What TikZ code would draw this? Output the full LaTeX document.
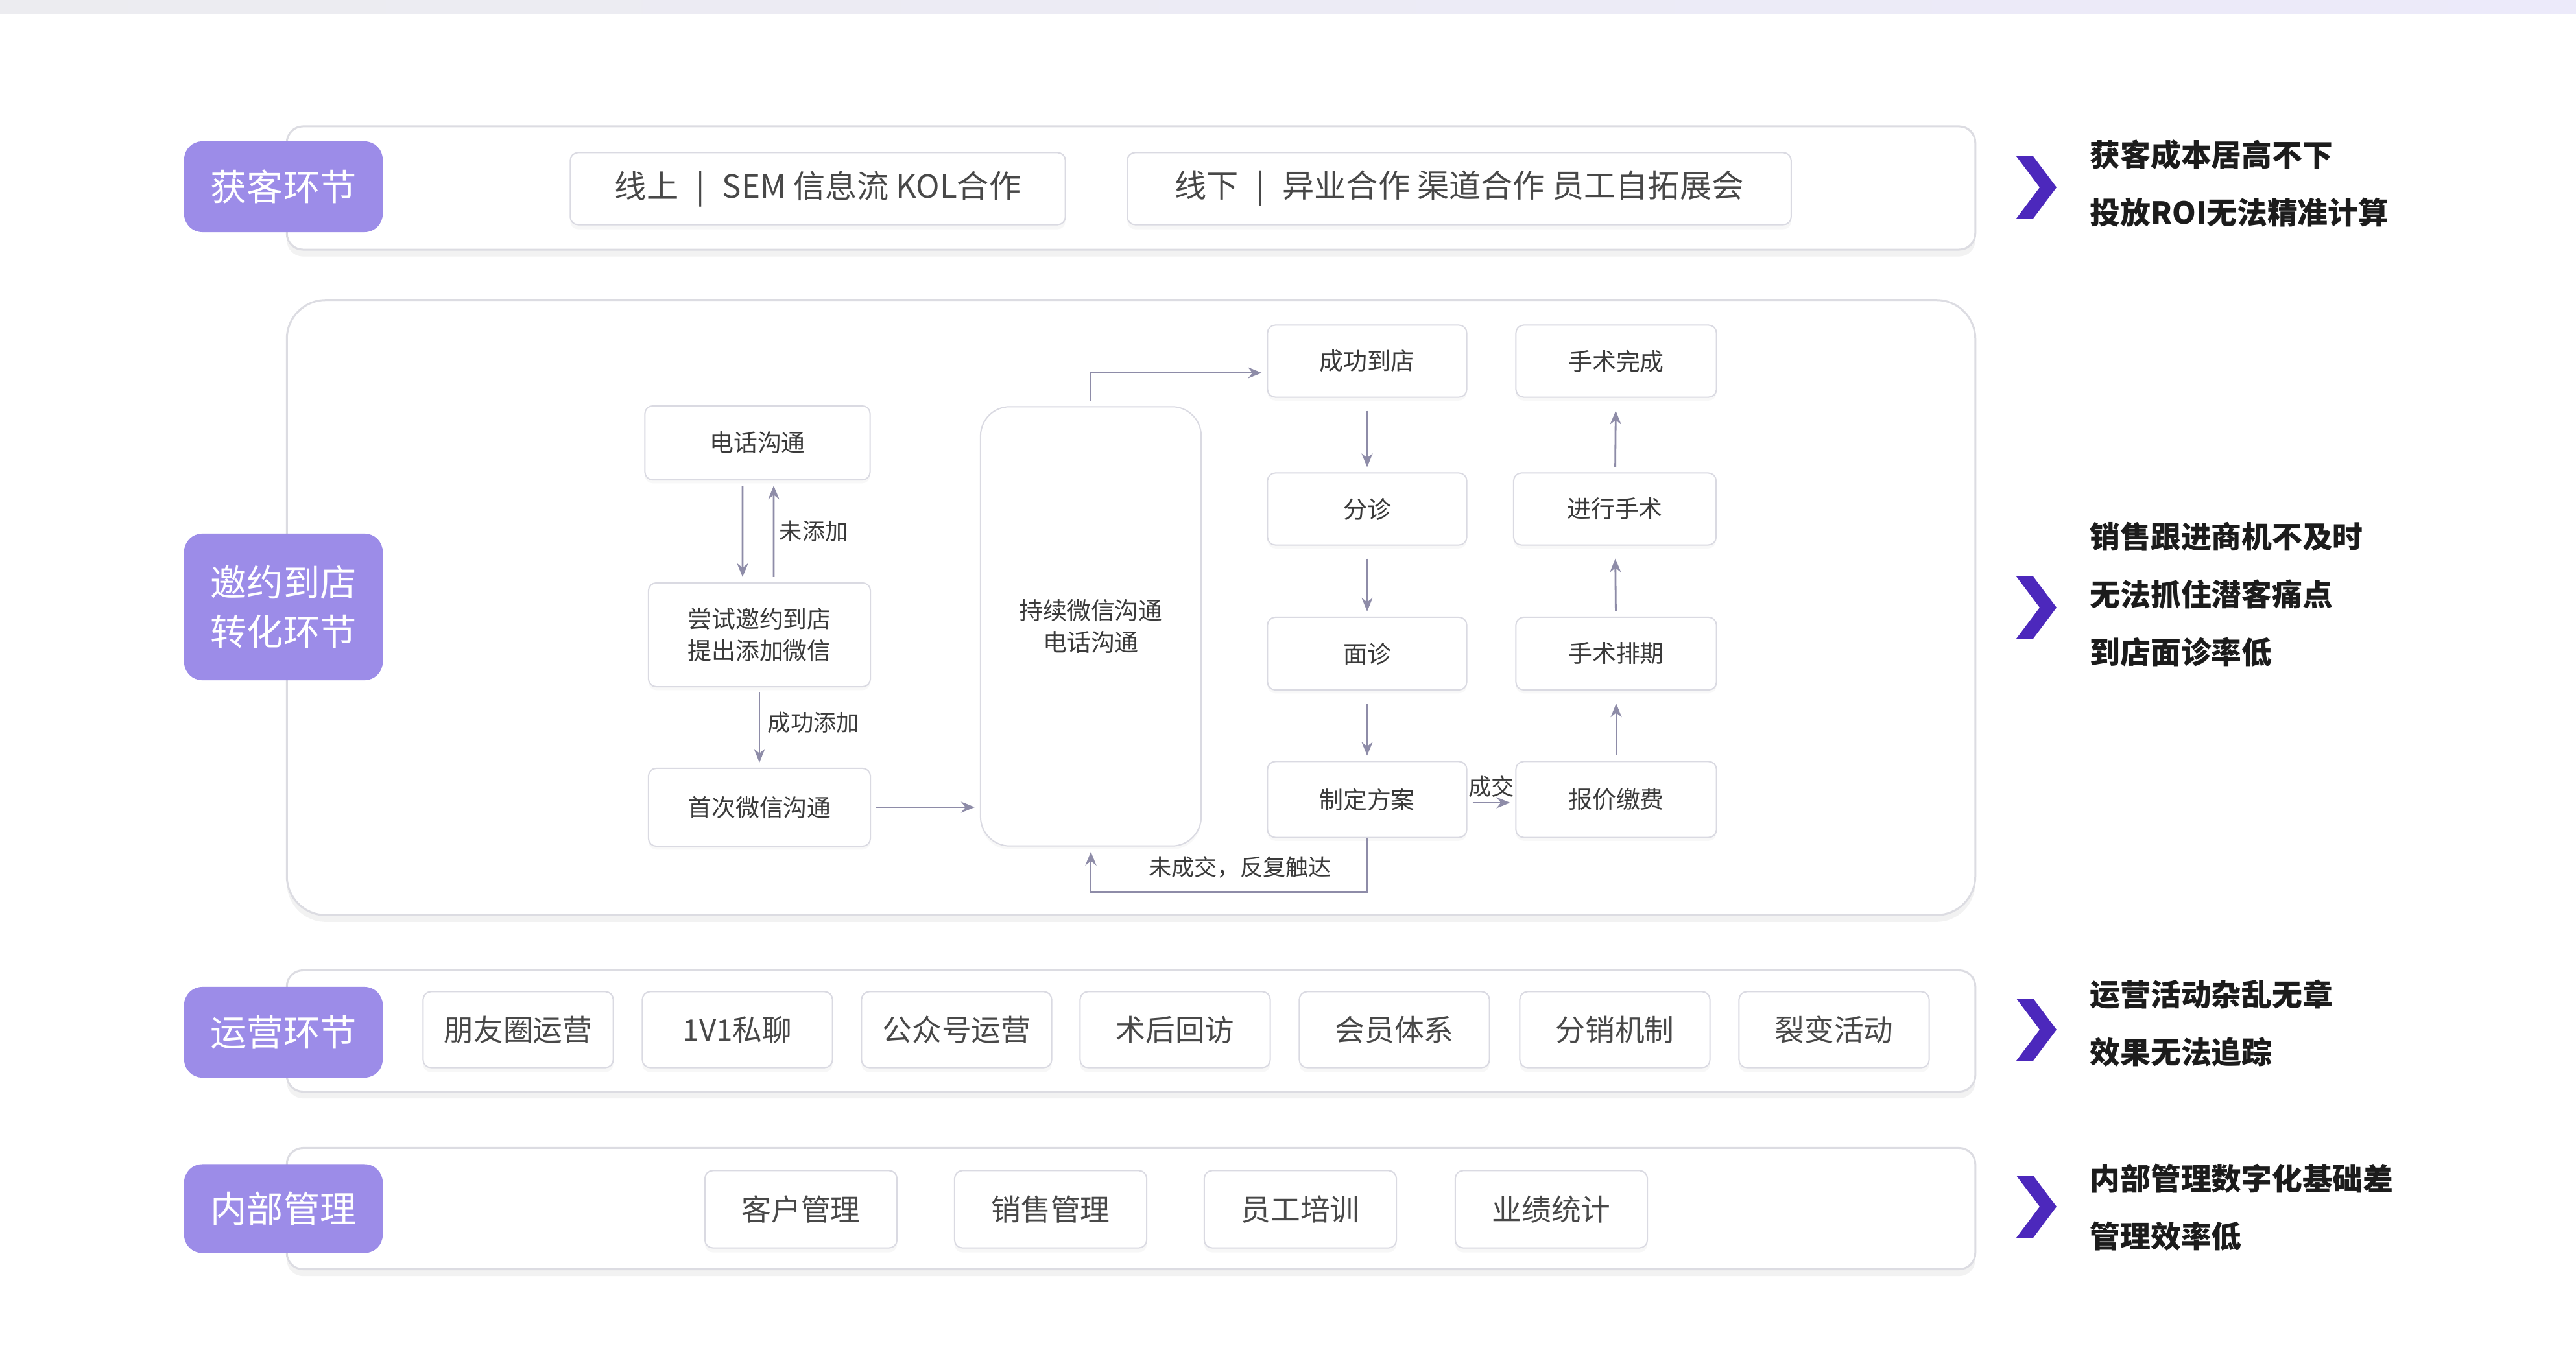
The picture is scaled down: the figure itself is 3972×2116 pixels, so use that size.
\documentclass[tikz,border=0pt]{standalone}
\usepackage{fontspec}
\setmainfont{Noto Sans CJK SC}
\usetikzlibrary{arrows.meta,shadows}
\definecolor{labc}{RGB}{156,140,232}
\definecolor{chevc}{RGB}{76,40,188}
\definecolor{bandc}{RGB}{220,220,226}
\definecolor{boxc}{RGB}{218,218,226}
\definecolor{arrc}{RGB}{142,140,168}
\definecolor{itemtext}{RGB}{72,72,72}
\definecolor{flowtext}{RGB}{58,58,58}
\definecolor{paintext}{RGB}{28,28,28}
\definecolor{stripl}{RGB}{236,236,240}
\definecolor{stripr}{RGB}{236,234,250}
\begin{document}
\begin{tikzpicture}[x=0.01cm,y=-0.01cm,
  bandbox/.style={draw=bandc, line width=0.03cm, rounded corners=0.25cm, fill=white,
    drop shadow={opacity=0.10, shadow xshift=0pt, shadow yshift=-3pt}},
  labbox/.style={fill=labc, rounded corners=0.28cm, text=white,
    font=\fontsize{16}{21.6}\selectfont, align=center, inner sep=0pt},
  itembox/.style={draw=boxc, line width=0.02cm, rounded corners=0.12cm, fill=white,
    text=itemtext, font=\fontsize{13}{16}\selectfont, inner sep=0pt,
    drop shadow={opacity=0.06, shadow xshift=0pt, shadow yshift=-2pt}},
  topitem/.style={itembox, font=\fontsize{14}{17}\selectfont},
  flowbox/.style={draw=boxc, line width=0.02cm, rounded corners=0.12cm, fill=white,
    text=flowtext, font=\fontsize{10.5}{14.2}\selectfont, align=center, inner sep=0pt,
    drop shadow={opacity=0.05, shadow xshift=0pt, shadow yshift=-1.5pt}},
  arr/.style={draw=arrc, line width=0.028cm, -{Stealth[length=0.21cm, width=0.17cm]},
    shorten <=0.08cm, shorten >=0.08cm},
  lbl/.style={text=flowtext, font=\fontsize{10}{12}\selectfont, inner sep=1pt},
  pain/.style={anchor=west, text=paintext, font=\bfseries\fontsize{13.3}{25.3}\selectfont,
    align=left, inner sep=0pt},
  chevron/.pic={\fill[chevc] (-31,-48) -- (-5,-48) -- (31,0) -- (-5,48) -- (-31,48) -- (5,0) -- cycle;}
]
\useasboundingbox (0,0) rectangle (3972,2116);
\fill[white] (0,0) rectangle (3972,2116);
\shade[left color=stripl, right color=stripr] (0,0) rectangle (3972,22);

% ---------- band 1 ----------
\node[bandbox, minimum width=26.02cm, minimum height=1.90cm] (band1) at (1744,290) {};
\node[labbox, minimum width=3.06cm, minimum height=1.40cm] (lab1) at (437,288) {获客环节};
\node[topitem, minimum width=7.63cm, minimum height=1.11cm] (on) at (1261,291) {线上\hspace{0.55em}|\hspace{0.55em}SEM 信息流 KOL合作};
\node[topitem, minimum width=10.23cm, minimum height=1.11cm] (off) at (2250,291) {线下\hspace{0.55em}|\hspace{0.55em}异业合作 渠道合作 员工自拓展会};
\pic at (3140,289) {chevron};
\node[pain] (p1) at (3222,283) {获客成本居高不下\\投放ROI无法精准计算};

% ---------- band 2 ----------
\node[bandbox, rounded corners=0.6cm, minimum width=26.02cm, minimum height=9.48cm] (band2) at (1744,937) {};
\node[labbox, minimum width=3.06cm, minimum height=2.26cm] (lab2) at (437,936) {邀约到店\\转化环节};

\node[flowbox, minimum width=3.47cm, minimum height=1.14cm] (phone) at (1168,683) {电话沟通};
\node[flowbox, minimum width=3.42cm, minimum height=1.60cm] (try) at (1171,979) {尝试邀约到店\\提出添加微信};
\node[flowbox, minimum width=3.42cm, minimum height=1.20cm] (first) at (1171,1245) {首次微信沟通};
\node[flowbox, rounded corners=0.45cm, minimum width=3.40cm, minimum height=6.77cm] (cont) at (1682,966) {持续微信沟通\\电话沟通};

\node[flowbox, minimum width=3.07cm, minimum height=1.11cm] (arrive) at (2108,557) {成功到店};
\node[flowbox, minimum width=3.07cm, minimum height=1.11cm] (triage) at (2108,785) {分诊};
\node[flowbox, minimum width=3.07cm, minimum height=1.12cm] (consult) at (2108,1008) {面诊};
\node[flowbox, minimum width=3.07cm, minimum height=1.17cm] (plan) at (2108,1233) {制定方案};

\node[flowbox, minimum width=3.09cm, minimum height=1.11cm] (done) at (2492,557) {手术完成};
\node[flowbox, minimum width=3.12cm, minimum height=1.11cm] (surgery) at (2490,785) {进行手术};
\node[flowbox, minimum width=3.09cm, minimum height=1.12cm] (sched) at (2492,1008) {手术排期};
\node[flowbox, minimum width=3.09cm, minimum height=1.17cm] (pay) at (2492,1233) {报价缴费};

\draw[arr] ([xshift=-0.23cm]phone.south) -- ([xshift=-0.26cm]try.north);
\draw[arr] ([xshift=0.22cm]try.north) -- ([xshift=0.25cm]phone.south)
  node[lbl, midway, right=0.04cm] (nadd) {未添加};
\draw[arr] (try.south) -- (first.north) node[lbl, midway, right=0.08cm, yshift=0.08cm] (okadd) {成功添加};
\draw[arr] (first.east) -- (first.east -| cont.west);
\draw[arr] (cont.north) |- ([yshift=-0.18cm]arrive.west);
\draw[arr, shorten <=0.2cm] (arrive) -- (triage);
\draw[arr, shorten <=0.2cm] (triage) -- (consult);
\draw[arr, shorten <=0.2cm] (consult) -- (plan);
\draw[arr] ([yshift=-0.05cm]plan.east) -- ([yshift=-0.05cm]pay.west)
  node[lbl, midway, above=0.04cm] (deal) {成交};
\draw[arr, shorten >=0.2cm] (pay) -- (sched);
\draw[arr, shorten >=0.2cm] (sched) -- (surgery);
\draw[arr, shorten >=0.2cm] (surgery) -- (done);
\draw[arr, shorten <=0pt] (plan.south) -- ++(0,83) -| (cont.south);
\node[lbl] (nodeal) at (1912,1337) {未成交，反复触达};

\pic at (3140,937) {chevron};
\node[pain] (p2) at (3222,917) {销售跟进商机不及时\\无法抓住潜客痛点\\到店面诊率低};

% ---------- band 3 ----------
\node[bandbox, minimum width=26.02cm, minimum height=1.87cm] (band3) at (1744,1590) {};
\node[labbox, minimum width=3.06cm, minimum height=1.40cm] (lab3) at (437,1592) {运营环节};
\node[itembox, minimum width=2.93cm, minimum height=1.17cm] (o1) at (799,1588) {朋友圈运营};
\node[itembox, minimum width=2.93cm, minimum height=1.17cm] (o2) at (1137,1588) {1V1私聊};
\node[itembox, minimum width=2.93cm, minimum height=1.17cm] (o3) at (1475,1588) {公众号运营};
\node[itembox, minimum width=2.93cm, minimum height=1.17cm] (o4) at (1812,1588) {术后回访};
\node[itembox, minimum width=2.93cm, minimum height=1.17cm] (o5) at (2150,1588) {会员体系};
\node[itembox, minimum width=2.93cm, minimum height=1.17cm] (o6) at (2490,1588) {分销机制};
\node[itembox, minimum width=2.93cm, minimum height=1.17cm] (o7) at (2828,1588) {裂变活动};
\pic at (3140,1588) {chevron};
\node[pain] (p3) at (3222,1578) {运营活动杂乱无章\\效果无法追踪};

% ---------- band 4 ----------
\node[bandbox, minimum width=26.02cm, minimum height=1.87cm] (band4) at (1744,1864) {};
\node[labbox, minimum width=3.06cm, minimum height=1.37cm] (lab4) at (437,1864) {内部管理};
\node[itembox, minimum width=2.96cm, minimum height=1.19cm] (m1) at (1235,1865) {客户管理};
\node[itembox, minimum width=2.96cm, minimum height=1.19cm] (m2) at (1620,1865) {销售管理};
\node[itembox, minimum width=2.96cm, minimum height=1.19cm] (m3) at (2005,1865) {员工培训};
\node[itembox, minimum width=2.96cm, minimum height=1.19cm] (m4) at (2392,1865) {业绩统计};
\pic at (3140,1861) {chevron};
\node[pain] (p4) at (3222,1862) {内部管理数字化基础差\\管理效率低};
\end{tikzpicture}
\end{document}
